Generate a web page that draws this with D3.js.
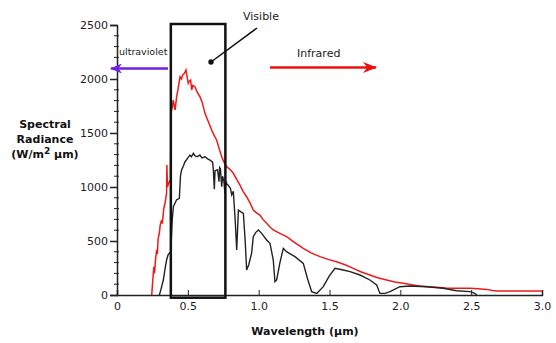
<!DOCTYPE html>
<html>
<head>
<meta charset="utf-8">
<script src="https://cdn.jsdelivr.net/npm/d3@7"></script>
<style>
  body { margin: 0; background: #fff; }
  svg { display: block; font-family: "DejaVu Sans", Verdana, sans-serif; }
</style>
</head>
<body>
<script>
// top of atmosphere (red) - wavelength in um, radiance W/m2 um
var topWl = [0.245,0.255,0.26,0.265,0.272,0.28,0.285,0.29,0.299,0.305,0.315,0.32,0.33,0.339,0.345,0.35,0.352,0.356,0.365,0.378,
  0.381,0.39,0.397,0.41,0.421,0.43,0.445,0.455,0.463,0.475,0.487,0.495,0.503,0.51,0.52,0.527,0.535,0.55,0.565,0.585,
  0.6,0.621,0.64,0.668,0.685,0.703,0.72,0.739,0.755,0.774,0.8,0.821,0.845,0.868,0.89,0.915,0.94,0.962,0.985,1.009,
  1.03,1.056,1.08,1.103,1.15,1.197,1.25,1.315,1.37,1.433,1.49,1.55,1.61,1.668,1.72,1.785,1.84,1.903,1.96,2.02,
  2.08,2.138,2.2,2.256,2.32,2.373,2.43,2.49,2.55,2.608,2.65,2.68,2.8,3.0];
var topVal = [0,180,262,200,330,417,380,520,574,650,694,660,800,852,900,944,1204,1000,1040,1065,
  1685,1740,1805,1713,1836,1900,2021,2000,2037,2050,2083,2020,1960,1980,1990,1898,1940,1929,1880,1836,
  1790,1682,1620,1528,1480,1435,1360,1280,1230,1188,1160,1127,1070,1018,960,910,850,787,760,740,
  700,664,630,602,571,540,490,432,390,355,330,308,280,247,215,185,160,139,120,108,
  95,83,76,71,65,62,62,62,58,52,42,37,37,37];

// at sea level (black)
var seaWl = [0.299,0.31,0.327,0.34,0.35,0.36,0.369,0.38,0.39,0.398,0.42,0.44,0.448,0.456,0.47,0.48,0.49,0.5,0.515,0.525,
  0.539,0.55,0.565,0.585,0.6,0.621,0.64,0.656,0.675,0.68,0.687,0.692,0.71,0.72,0.725,0.73,0.739,0.745,0.755,0.762,
  0.768,0.774,0.8,0.81,0.821,0.833,0.845,0.857,0.875,0.892,0.905,0.915,0.93,0.95,0.962,0.98,0.998,1.021,1.056,1.08,
  1.103,1.115,1.127,1.15,1.174,1.197,1.256,1.315,1.345,1.374,1.41,1.456,1.5,1.539,1.597,1.645,1.715,1.785,1.833,1.856,
  1.891,1.927,1.997,2.068,2.185,2.303,2.397,2.49,2.526,2.54];
var seaVal = [0,50,139,250,324,370,386,400,700,818,880,895,1100,1157,1200,1234,1250,1270,1296,1280,
  1312,1290,1280,1296,1270,1280,1260,1250,1230,1157,980,1150,1160,1050,1180,1170,1003,1100,1050,941,
  1050,1034,990,926,960,725,417,787,770,756,500,231,280,386,540,580,602,571,509,478,
  324,123,139,300,432,401,355,293,150,31,15,77,180,247,231,216,185,139,93,15,
  15,31,77,83,77,62,40,31,15,0];

var xTicks = [0, 0.5, 1.0, 1.5, 2.0, 2.5, 3.0];
var yTicks = [0, 500, 1000, 1500, 2000, 2500];
var visibleBand = [0.38, 0.765];

var w = 556;
var h = 343;

var svg = d3.select("body")
    .append("svg")
    .attr("width", w)
    .attr("height", h);

var x = d3.scaleLinear().domain([0, 3]).range([117, 542]);
var y = d3.scaleLinear().domain([0, 2500]).range([295, 25]);

var defs = svg.append("defs");
function head(id, color, len, wid) {
  defs.append("marker")
      .attr("id", id)
      .attr("viewBox", "0 0 " + len + " " + wid)
      .attr("refX", len - 1)
      .attr("refY", wid / 2)
      .attr("markerUnits", "userSpaceOnUse")
      .attr("markerWidth", len)
      .attr("markerHeight", wid)
      .attr("orient", "auto")
    .append("path")
      .attr("d", "M0,0L" + len + "," + (wid / 2) + "L0," + wid + "L" + (len * 0.3) + "," + (wid / 2) + "Z")
      .attr("fill", color);
}
head("purpleHead", "#7020e0", 12, 10);
head("redHead", "#ee1111", 14, 11);

// y axis
var yMinor = d3.range(0, 2501, 100).filter(function(d) { return d % 500 != 0; });
svg.append("g")
   .attr("transform", "translate(" + x(0) + ",0)")
   .selectAll("line")
   .data(yMinor)
   .enter()
   .append("line")
   .attr("x1", -3)
   .attr("x2", 2)
   .attr("y1", function(d) { return y(d); })
   .attr("y2", function(d) { return y(d); })
   .attr("stroke", "#222")
   .attr("stroke-width", 1);

var yAxis = svg.append("g")
   .attr("transform", "translate(" + x(0) + ",0)")
   .call(d3.axisLeft(y).tickValues(yTicks).tickSize(7).tickPadding(2).tickFormat(d3.format("d")));
yAxis.select(".domain").attr("stroke", "#222").attr("stroke-width", 1.5);
yAxis.selectAll(".tick line").attr("stroke", "#222").attr("stroke-width", 1.5);
yAxis.selectAll("text").attr("font-size", "11px").attr("fill", "#222")
   .attr("font-family", "DejaVu Sans, sans-serif");

// x axis
var xAxis = svg.append("g")
   .attr("transform", "translate(0," + y(0) + ")")
   .call(d3.axisBottom(x).tickValues(xTicks).tickSize(-5).tickPadding(7)
     .tickFormat(function(d) { return d == 0 ? "0" : d3.format(".1f")(d); }));
xAxis.select(".domain").attr("stroke", "#222").attr("stroke-width", 1.5);
xAxis.selectAll(".tick line").attr("stroke", "#222").attr("stroke-width", 1)
   .filter(function(d) { return d == 0 || d == 3; }).remove();
xAxis.selectAll("text").attr("font-size", "11px").attr("fill", "#222")
   .attr("font-family", "DejaVu Sans, sans-serif");

var line = d3.line()
   .x(function(d) { return x(d[0]); })
   .y(function(d) { return y(d[1]); });

svg.append("path")
   .datum(d3.zip(topWl, topVal))
   .attr("d", line)
   .attr("fill", "none")
   .attr("stroke", "#ee1a1a")
   .attr("stroke-width", 1.5);

svg.append("path")
   .datum(d3.zip(seaWl, seaVal))
   .attr("d", line)
   .attr("fill", "none")
   .attr("stroke", "#222")
   .attr("stroke-width", 1.4);

// visible box
svg.append("rect")
   .attr("x", x(visibleBand[0]))
   .attr("y", y(2500) - 1)
   .attr("width", x(visibleBand[1]) - x(visibleBand[0]))
   .attr("height", y(-25) - y(2500) + 1)
   .attr("fill", "none")
   .attr("stroke", "#111")
   .attr("stroke-width", 2.5);

svg.append("line")
   .attr("x1", 257).attr("y1", 28)
   .attr("x2", 211).attr("y2", 62)
   .attr("stroke", "#111")
   .attr("stroke-width", 1.5);
svg.append("circle")
   .attr("cx", 211).attr("cy", 62).attr("r", 2.7)
   .attr("fill", "#111");
svg.append("text")
   .text("Visible")
   .attr("x", 243).attr("y", 20)
   .attr("font-size", "11px")
   .attr("fill", "#222");

// arrows
svg.append("line")
   .attr("x1", 168).attr("y1", 68.5)
   .attr("x2", 111).attr("y2", 68.5)
   .attr("stroke", "#7020e0")
   .attr("stroke-width", 2.5)
   .attr("marker-end", "url(#purpleHead)");
svg.append("text")
   .text("ultraviolet")
   .attr("x", 119).attr("y", 55)
   .attr("font-size", "9.5px")
   .attr("fill", "#222");

svg.append("line")
   .attr("x1", 270).attr("y1", 67.5)
   .attr("x2", 376).attr("y2", 67.5)
   .attr("stroke", "#ee1111")
   .attr("stroke-width", 2.5)
   .attr("marker-end", "url(#redHead)");
svg.append("text")
   .text("Infrared")
   .attr("x", 297).attr("y", 57)
   .attr("font-size", "11px")
   .attr("fill", "#222");

// axis titles
var yt = svg.append("text")
   .attr("text-anchor", "middle")
   .attr("font-size", "11px")
   .attr("font-weight", "bold")
   .attr("fill", "#111");
yt.append("tspan").attr("x", 45).attr("y", 128).text("Spectral");
yt.append("tspan").attr("x", 45).attr("y", 143).text("Radiance");
var t3 = yt.append("tspan").attr("x", 45).attr("y", 158);
t3.append("tspan").text("(W/m");
t3.append("tspan").attr("dy", -4).attr("font-size", "9px").text("2");
t3.append("tspan").attr("dy", 4).text(" \u03bcm)");

svg.append("text")
   .text("Wavelength (\u03bcm)")
   .attr("x", 305).attr("y", 335)
   .attr("text-anchor", "middle")
   .attr("font-size", "11px")
   .attr("font-weight", "bold")
   .attr("fill", "#111");
</script>
</body>
</html>
